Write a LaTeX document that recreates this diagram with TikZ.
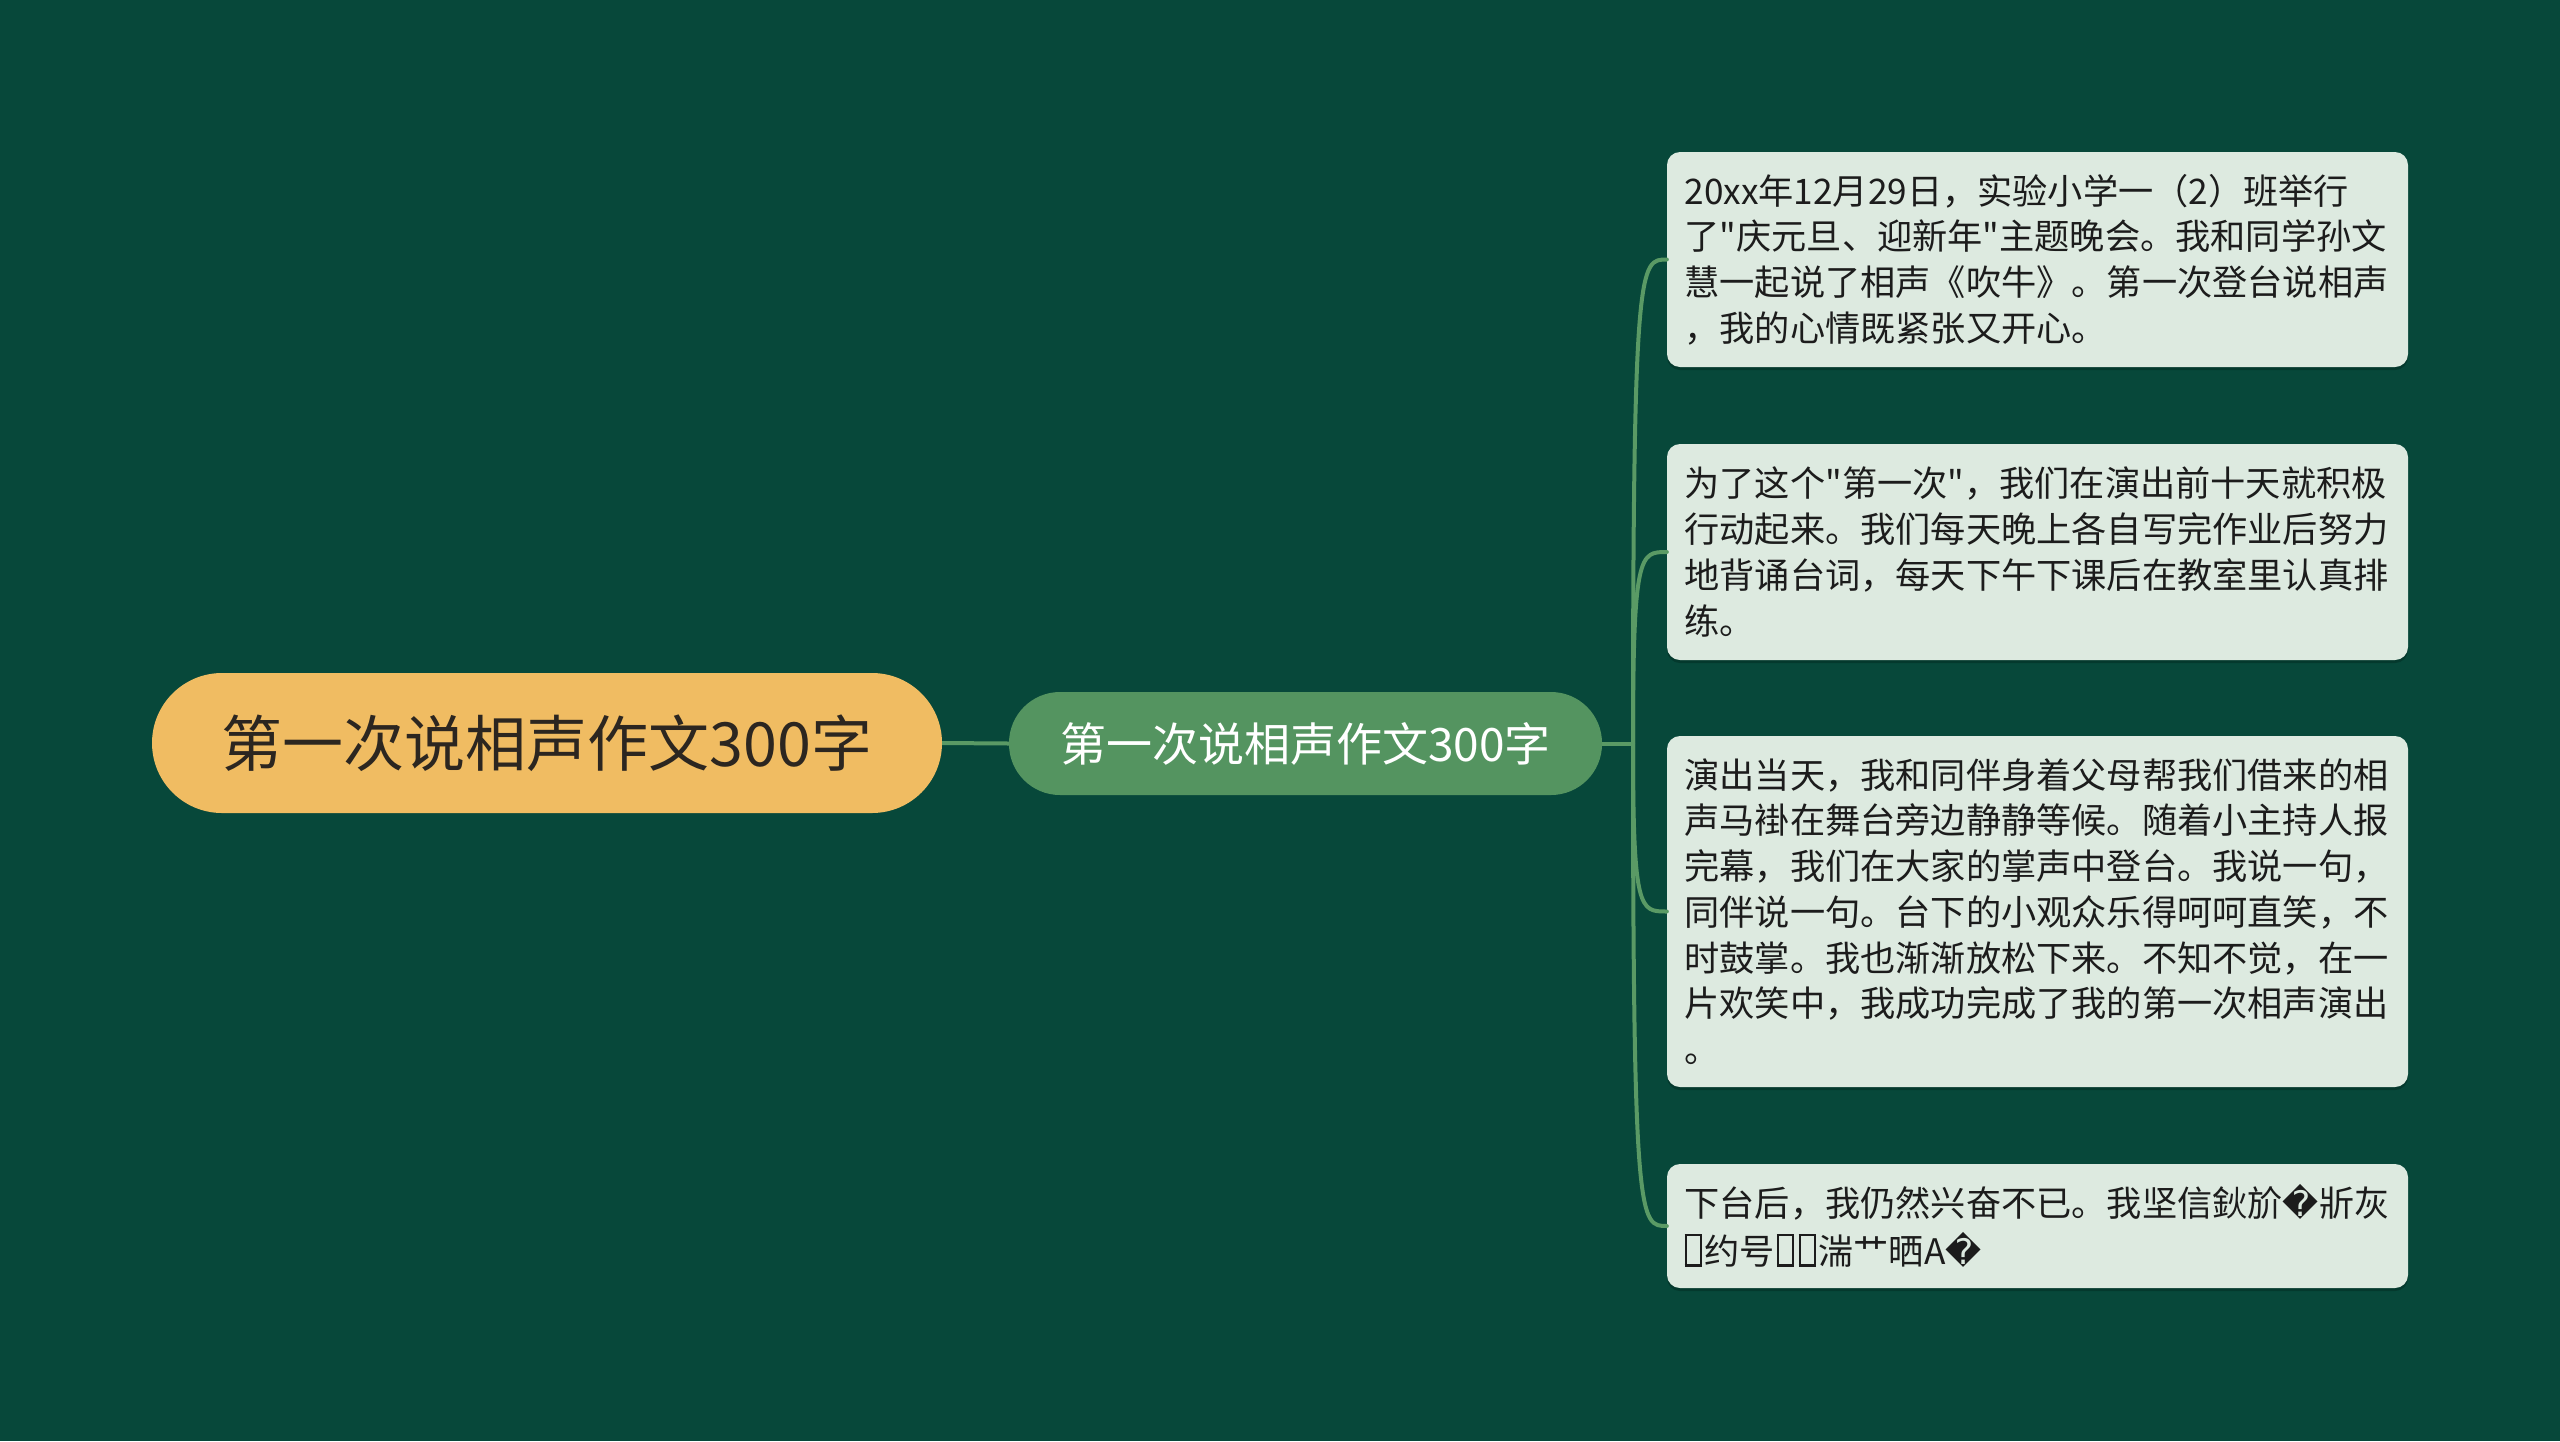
\documentclass[tikz,border=0pt]{standalone}
\usepackage{fontspec}
\setmainfont{Noto Sans CJK SC}[Ligatures=TeXOff]
\newfontfamily\dejavu{DejaVu Sans}
\definecolor{bgc}{HTML}{07483A}
\definecolor{rootc}{HTML}{F0BC62}
\definecolor{midc}{HTML}{549460}
\definecolor{boxc}{HTML}{DDEAE0}
\definecolor{linec}{HTML}{5A9A65}
\definecolor{txtc}{HTML}{1C1C1C}
\definecolor{shadc}{HTML}{04392D}
\newcommand\tofu{{\kern0.06em\fboxsep=0pt\fboxrule=2.5pt\fbox{\rule{0pt}{0.8em}\hspace{0.36em}}\kern0.06em}}
\newcommand\repl{{\dejavu\symbol{"FFFD}}}
\tikzset{
  rootbox/.style={fill=rootc, rounded corners=70pt, minimum width=790pt, minimum height=140pt,
    text=txtc!90!brown, font=\fontsize{61}{70}\selectfont, inner sep=0pt},
  midbox/.style={fill=midc, rounded corners=51pt, minimum width=593pt, minimum height=103pt,
    text=white, font=\fontsize{46}{54}\selectfont, inner sep=0pt},
  leafbox/.style={fill=boxc, rounded corners=13pt, text width=706pt, align=left,
    inner xsep=17.5pt, inner ysep=8pt, text=txtc, font=\fontsize{35.2}{45.7}\selectfont,
    drop shadow={shadow xshift=0pt, shadow yshift=-3pt, fill=shadc, opacity=1}},
  link/.style={draw=linec, line width=4pt},
  curvelink/.style={draw=linec, line width=4pt, line cap=round}
}
\usetikzlibrary{shadows}
\begin{document}
\begin{tikzpicture}[x=1pt,y=-1pt]
\fill[bgc] (0,0) rectangle (2560,1441);
\useasboundingbox (0,0) rectangle (2560,1441);

\node[rootbox] (root) at (547,743) {第一次说相声作文300字};
\node[midbox] (mid) at (1305.5,743.5) {第一次说相声作文300字};

\node[leafbox, minimum height=215pt] (b1) at (2037.5,259.5) {20xx年12月29日，实验小学一（2）班举行\\了"庆元旦、迎新年"主题晚会。我和同学孙文\\慧一起说了相声《吹牛》。第一次登台说相声\\，我的心情既紧张又开心。};
\node[leafbox, minimum height=216pt] (b2) at (2037.5,552) {为了这个"第一次"，我们在演出前十天就积极\\行动起来。我们每天晚上各自写完作业后努力\\地背诵台词，每天下午下课后在教室里认真排\\练。};
\node[leafbox, minimum height=351pt] (b3) at (2037.5,911.5) {演出当天，我和同伴身着父母帮我们借来的相\\声马褂在舞台旁边静静等候。随着小主持人报\\完幕，我们在大家的掌声中登台。我说一句，\\同伴说一句。台下的小观众乐得呵呵直笑，不\\时鼓掌。我也渐渐放松下来。不知不觉，在一\\片欢笑中，我成功完成了我的第一次相声演出\\。};
\node[leafbox, minimum height=124pt] (b4) at (2037.5,1226) {下台后，我仍然兴奋不已。我坚信鈥斺\repl 斨灰\\\tofu 约号\tofu\tofu 湍艹晒A\repl};

\coordinate (hub) at (1633,743.5);
\draw[link] (root.east) -- (mid.west);
\draw[link] (mid.east) -- (hub);
\foreach \b in {b1,b2,b3,b4}{
  \draw[curvelink] (hub) .. controls (hub |- \b.west) and ([xshift=-27pt]\b.west) .. (\b.west);
}
\end{tikzpicture}
\end{document}
